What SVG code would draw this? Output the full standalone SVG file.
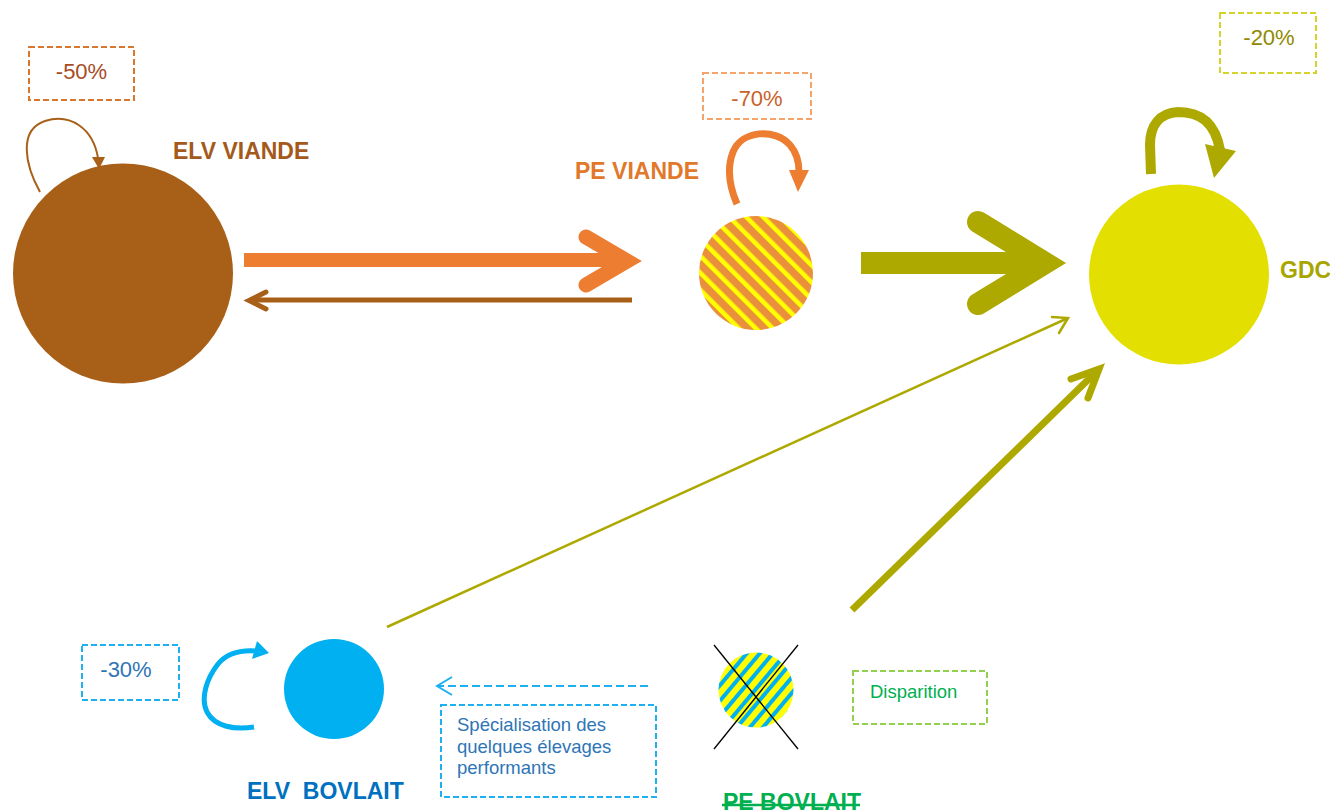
<svg xmlns="http://www.w3.org/2000/svg" width="1330" height="812" viewBox="0 0 1330 812">
<style>
  .lbl { font-family: "Liberation Sans", Arial, sans-serif; font-weight: bold; font-size: 23px; white-space: pre; }
  .pct { font-family: "Liberation Sans", Arial, sans-serif; font-size: 22px; text-anchor: middle; }
  .note { font-family: "Liberation Sans", Arial, sans-serif; font-size: 18.5px; }
  .box { fill: none; stroke-width: 2; stroke-dasharray: 6 3; }
  .rc { fill: none; stroke-linecap: round; stroke-linejoin: miter; }
</style>
<defs>
  <pattern id="stripeOrange" patternUnits="userSpaceOnUse" width="12" height="12" patternTransform="rotate(-45)">
    <rect width="12" height="12" fill="#EA8F3C"/>
    <rect x="0" y="0" width="4.5" height="12" fill="#FFFF00"/>
  </pattern>
  <pattern id="stripeBlue" patternUnits="userSpaceOnUse" width="10" height="10" patternTransform="rotate(40)">
    <rect width="10" height="10" fill="#FFFF00"/>
    <rect x="0" y="0" width="4" height="10" fill="#00B0F0"/>
  </pattern>
</defs>

<g id="connectors">
  <!-- ELV VIANDE -> PE VIANDE (big orange) -->
  <line x1="244" y1="260" x2="628" y2="260" stroke="#ED7D31" stroke-width="14"/>
  <polyline class="rc" points="586,237 627,261 586,285" stroke="#ED7D31" stroke-width="15"/>
  <!-- PE VIANDE -> ELV VIANDE (brown) -->
  <line x1="632" y1="300" x2="250" y2="300" stroke="#A85F17" stroke-width="5"/>
  <polyline class="rc" points="266,292 249,300.5 266,309" stroke="#A85F17" stroke-width="5"/>
  <!-- PE VIANDE -> GDC (big olive) -->
  <line x1="861" y1="263" x2="1045" y2="263" stroke="#ADA900" stroke-width="22"/>
  <polyline class="rc" points="978,222 1045,263 978,304" stroke="#ADA900" stroke-width="22"/>
  <!-- ELV BOVLAIT -> GDC (thin olive) -->
  <line x1="387" y1="627" x2="1068" y2="318" stroke="#ADA900" stroke-width="2.5"/>
  <polyline class="rc" points="1052,317 1068,318 1059,333" stroke="#ADA900" stroke-width="2.5"/>
  <!-- PE BOVLAIT -> GDC (thick olive) -->
  <line x1="852" y1="610" x2="1097" y2="371" stroke="#ADA900" stroke-width="7"/>
  <polyline class="rc" points="1071,379 1099,369 1088,398" stroke="#ADA900" stroke-width="7"/>
  <!-- dashed blue -->
  <line x1="648" y1="686" x2="438" y2="686" stroke="#1EB0F0" stroke-width="2" stroke-dasharray="8 4"/>
  <polyline fill="none" points="452,677 437,686 452,695" stroke="#1EB0F0" stroke-width="2"/>
</g>

<g id="elv-viande">
  <circle cx="123" cy="273.5" r="110" fill="#A85F17"/>
  <text class="lbl" x="173" y="159" fill="#A35A1B">ELV VIANDE</text>
  <rect class="box" x="29" y="47" width="105" height="53" stroke="#D8782E"/>
  <text class="pct" x="81.5" y="79" fill="#A84B1F">-50%</text>
  <path d="M40,192 C25,165 18,130 45,121 C70,113 93,128 98,158" fill="none" stroke="#A85F17" stroke-width="2"/>
  <polygon points="92,157 105,157 99,169" fill="#A85F17"/>
</g>

<g id="pe-viande">
  <circle cx="756" cy="273" r="57" fill="url(#stripeOrange)"/>
  <text class="lbl" x="575" y="179" fill="#E2782A">PE VIANDE</text>
  <rect class="box" x="703" y="73" width="108" height="46" stroke="#F4A46B"/>
  <text class="pct" x="757" y="106" fill="#C8622A">-70%</text>
  <path d="M737,204 C731,190 726,170 733,152 C742,130 775,128 790,145 C797,153 799,162 799,172" fill="none" stroke="#ED7D31" stroke-width="7"/>
  <polygon points="789,170 809,170 798,192" fill="#ED7D31"/>
</g>

<g id="gdc">
  <circle cx="1179" cy="274.5" r="90" fill="#E3DF00"/>
  <text class="lbl" x="1280" y="278" fill="#A8A500">GDC</text>
  <rect class="box" x="1220" y="13" width="96" height="60" stroke="#D6D42A"/>
  <text class="pct" x="1269" y="45" fill="#8E8A00">-20%</text>
  <path d="M1151,174 L1150,145 C1150,125 1160,113 1178,112 C1200,112 1215,122 1220,150" fill="none" stroke="#ADA900" stroke-width="10"/>
  <polygon points="1205,144 1236,151 1214,178" fill="#ADA900"/>
</g>

<g id="elv-bovlait">
  <circle cx="334" cy="689" r="50" fill="#00B0F0"/>
  <text class="lbl" x="247" y="799" fill="#0070C0">ELV  BOVLAIT</text>
  <rect class="box" x="82" y="645" width="97" height="55" stroke="#1EB0F0"/>
  <text class="pct" x="126" y="677" fill="#2F75B5">-30%</text>
  <path d="M254,727 C235,730 215,727 207,712 C200,698 207,678 218,664 C228,652 242,650 256,651" fill="none" stroke="#00B0F0" stroke-width="5"/>
  <polygon points="257,641 269,653 252,659" fill="#00B0F0"/>
</g>

<g id="note-specialisation">
  <rect class="box" x="441" y="705" width="215" height="92" stroke="#1EB0F0"/>
  <text class="note" fill="#2E75B6"><tspan x="457" y="731">Spécialisation des</tspan><tspan x="457" y="752.5">quelques élevages</tspan><tspan x="457" y="774">performants</tspan></text>
</g>

<g id="pe-bovlait">
  <circle cx="756" cy="690" r="37.5" fill="url(#stripeBlue)"/>
  <line x1="714" y1="645" x2="798" y2="749" stroke="#000" stroke-width="1.3"/>
  <line x1="798" y1="645" x2="714" y2="749" stroke="#000" stroke-width="1.3"/>
  <text class="lbl" x="723" y="810" fill="#00B050">PE BOVLAIT</text>
  <line x1="722" y1="805" x2="860" y2="805" stroke="#00B050" stroke-width="2.5"/>
</g>

<g id="note-disparition">
  <rect class="box" x="853" y="671" width="134" height="53" stroke="#92D050"/>
  <text class="note" x="870" y="698" font-size="18" fill="#00B050">Disparition</text>
</g>
</svg>
